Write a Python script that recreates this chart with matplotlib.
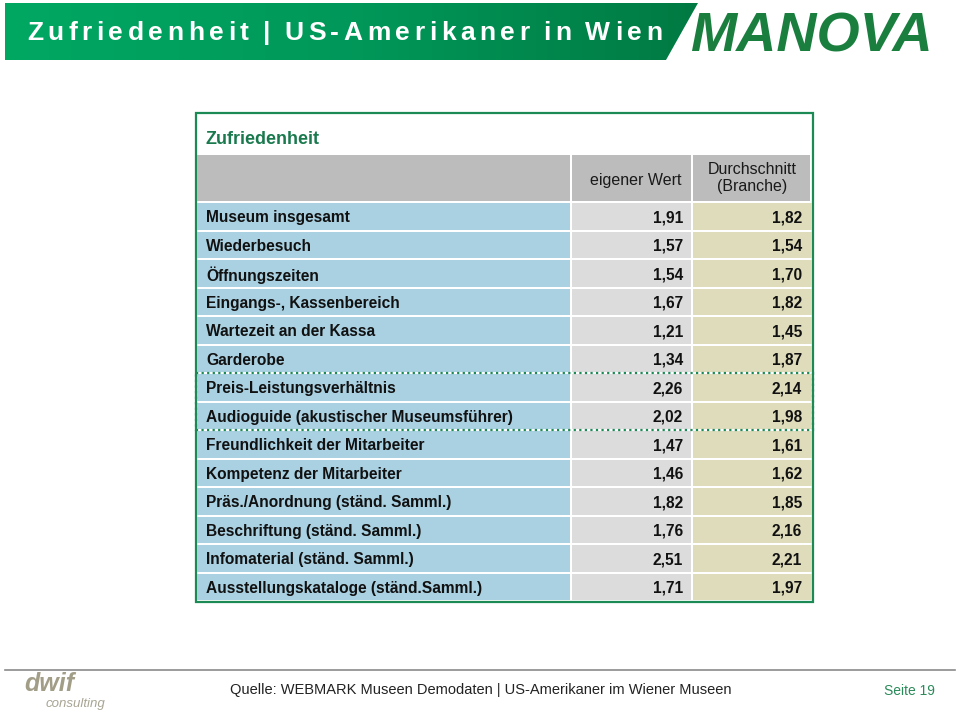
import numpy as np
import matplotlib.pyplot as plt
from matplotlib.patches import Rectangle, Polygon

# data
labels = ['Museum insgesamt', 'Wiederbesuch', 'Öffnungszeiten', 'Eingangs-, Kassenbereich',
          'Wartezeit an der Kassa', 'Garderobe', 'Preis-Leistungsverhältnis',
          'Audioguide (akustischer Museumsführer)', 'Freundlichkeit der Mitarbeiter',
          'Kompetenz der Mitarbeiter', 'Präs./Anordnung (ständ. Samml.)',
          'Beschriftung (ständ. Samml.)', 'Infomaterial (ständ. Samml.)',
          'Ausstellungskataloge (ständ.Samml.)']
eigen = [1.91, 1.57, 1.54, 1.67, 1.21, 1.34, 2.26, 2.02, 1.47, 1.46, 1.82, 1.76, 2.51, 1.71]
branche = [1.82, 1.54, 1.70, 1.82, 1.45, 1.87, 2.14, 1.98, 1.61, 1.62, 1.85, 2.16, 2.21, 1.97]
col_heads = ['eigener Wert', 'Durchschnitt\n(Branche)']
title = 'Zufriedenheit | US-Amerikaner in Wien'
highlight = [6, 7]  # rows with dotted frame

plt.rcParams['font.family'] = ['Liberation Sans', 'DejaVu Sans']

fig = plt.figure(figsize=(9.6, 7.13), dpi=100)
ax = fig.add_axes([0, 0, 1, 1])
ax.set_xlim(0, 960)
ax.set_ylim(713, 0)
ax.axis('off')

green = '#1b8a55'

# header banner with gradient
grad = np.linspace(0, 1, 256).reshape(1, -1)
cmap = plt.matplotlib.colors.LinearSegmentedColormap.from_list('g', ['#00a862', '#00985a', '#007a42'])
im = ax.imshow(grad, cmap=cmap, extent=[5, 698, 60, 3], aspect='auto', zorder=1)
banner = Polygon([[5, 3], [698, 3], [666, 60], [5, 60]], closed=True, facecolor='none', edgecolor='none')
ax.add_patch(banner)
im.set_clip_path(banner)

# letter-spaced title, char by char
renderer = fig.canvas.get_renderer()
chars = []
for c in title:
    t = ax.text(0, 33, c, color='white', fontsize=19, fontweight='bold', va='center', ha='left', zorder=3,
                family=['Liberation Sans Narrow', 'Liberation Sans'])
    w = t.get_window_extent(renderer).width if c != ' ' else 5
    chars.append((t, w))
total = sum(w for _, w in chars)
spacing = (662 - 27 - total) / (len(chars) - 1)
xpos = 27
for t, w in chars:
    t.set_x(xpos)
    xpos += w + spacing

ax.text(690, 37, 'MANOVA', color='#1a7f3e', fontsize=40, fontweight='bold', style='italic',
        va='center', ha='left', zorder=3)

# table frame
x0, x1, x2, x3 = 197, 572, 693, 812
top, hh, pitch, gap = 203, 46, 28.5, 2
ax.add_patch(Rectangle((196, 113), 617, 489, facecolor='white', edgecolor=green, lw=1.6, zorder=2))
ax.text(206, 139, 'Zufriedenheit', color='#1a7a4e', fontsize=13, fontweight='bold', va='center', zorder=4)

# header row
hy = top - hh - gap
for xa, xb in [(x0, x1), (x1, x2), (x2, x3)]:
    ax.add_patch(Rectangle((xa, hy), xb - xa - gap, hh, facecolor='#bcbcbc', edgecolor='none', zorder=3))
ax.text(x2 - 12, hy + hh / 2 + 3, col_heads[0], ha='right', va='center', fontsize=11.5, color='#1a1a1a', zorder=4)
ax.text((x2 + x3) / 2, hy + hh / 2, col_heads[1], ha='center', va='center', fontsize=11.5,
        color='#1a1a1a', linespacing=1.15, zorder=4)

# rows
for i, (lab, a, b) in enumerate(zip(labels, eigen, branche)):
    y = top + i * pitch
    ax.add_patch(Rectangle((x0, y), x1 - x0 - gap, pitch - gap, facecolor='#a9d1e2', edgecolor='none', zorder=3))
    ax.add_patch(Rectangle((x1, y), x2 - x1 - gap, pitch - gap, facecolor='#dcdcdc', edgecolor='none', zorder=3))
    ax.add_patch(Rectangle((x2, y), x3 - x2, pitch - gap, facecolor='#dedcbb', edgecolor='none', zorder=3))
    cy = y + (pitch - gap) / 2 + 1.5
    ax.text(206, cy, lab, ha='left', va='center', fontsize=11.2, fontweight='bold', color='#111111', zorder=4)
    ax.text(x2 - 10, cy, f'{a:.2f}'.replace('.', ','), ha='right', va='center', fontsize=11.2,
            fontweight='bold', color='#111111', zorder=4)
    ax.text(x3 - 10, cy, f'{b:.2f}'.replace('.', ','), ha='right', va='center', fontsize=11.2,
            fontweight='bold', color='#111111', zorder=4)

# dotted highlight frame
ya = top + highlight[0] * pitch - gap / 2
yb = top + (highlight[-1] + 1) * pitch - gap / 2
ax.add_patch(Rectangle((196, ya), 617, yb - ya, facecolor='none', edgecolor=green, lw=1.6,
                       linestyle=(0, (1, 1.5)), zorder=5))

# footer
ax.plot([5, 955], [670, 670], color='#8a8a8a', lw=1.2, zorder=2)
ax.text(24, 684, 'dwif', fontsize=18, fontweight='bold', style='italic', color='#a19d87', va='center', ha='left')
ax.text(46, 704, 'consulting', fontsize=9.5, style='italic', color='#a8a594', va='center', ha='left')
ax.text(481, 690, 'Quelle: WEBMARK Museen Demodaten | US-Amerikaner im Wiener Museen', fontsize=10.5,
        color='#222222', ha='center', va='center', family=['Liberation Sans Narrow', 'Liberation Sans'])
ax.text(935, 691, 'Seite 19', fontsize=10, color='#2a8a5a', ha='right', va='center',
        family=['Liberation Sans Narrow', 'Liberation Sans'])

fig.savefig('out.png', dpi=100)
